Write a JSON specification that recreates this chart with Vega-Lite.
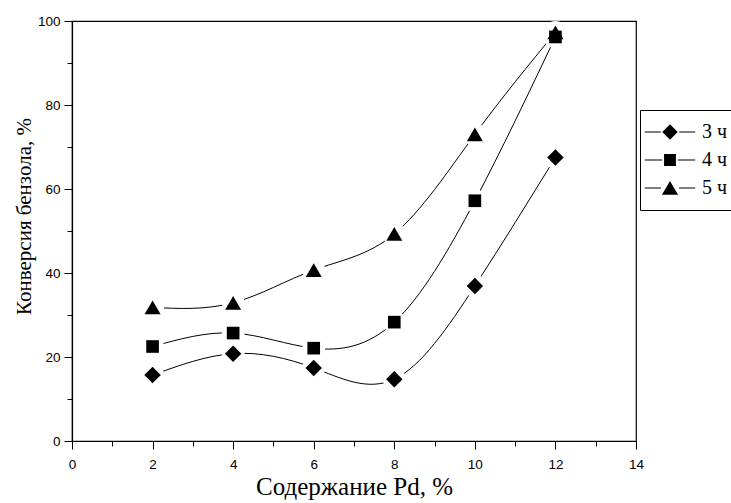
{
  "$schema": "https://vega.github.io/schema/vega-lite/v6.json",
  "width": 564,
  "height": 420,
  "autosize": {"type": "none"},
  "padding": {"left": 72, "top": 21, "right": 95, "bottom": 62},
  "background": "white",
  "config": {
    "view": {"stroke": "black", "strokeWidth": 1.2},
    "axis": {
      "domainColor": "black",
      "domainWidth": 1.2,
      "tickColor": "black",
      "tickWidth": 1,
      "grid": false,
      "labelFont": "Liberation Sans",
      "labelFontSize": 13.5,
      "labelColor": "black",
      "titleFont": "Liberation Serif",
      "titleFontWeight": "normal",
      "titleColor": "black",
      "labelOverlap": false,
      "labelFlush": false
    },
    "legend": {
      "symbolSize": 196,
      "symbolFillColor": "black",
      "symbolStrokeWidth": 0,
      "symbolOpacity": 1
    }
  },
  "data": {
    "values": [
      {"pd": 2, "conv": 15.7, "series": "3 ч"},
      {"pd": 4, "conv": 20.8, "series": "3 ч"},
      {"pd": 6, "conv": 17.4, "series": "3 ч"},
      {"pd": 8, "conv": 14.7, "series": "3 ч"},
      {"pd": 10, "conv": 36.9, "series": "3 ч"},
      {"pd": 12, "conv": 67.5, "series": "3 ч"},
      {"pd": 2, "conv": 22.5, "series": "4 ч"},
      {"pd": 4, "conv": 25.7, "series": "4 ч"},
      {"pd": 6, "conv": 22.1, "series": "4 ч"},
      {"pd": 8, "conv": 28.3, "series": "4 ч"},
      {"pd": 10, "conv": 57.2, "series": "4 ч"},
      {"pd": 12, "conv": 96.2, "series": "4 ч"},
      {"pd": 2, "conv": 31.8, "series": "5 ч"},
      {"pd": 4, "conv": 32.9, "series": "5 ч"},
      {"pd": 6, "conv": 40.7, "series": "5 ч"},
      {"pd": 8, "conv": 49.3, "series": "5 ч"},
      {"pd": 10, "conv": 73.0, "series": "5 ч"},
      {"pd": 12, "conv": 97.3, "series": "5 ч"}
    ]
  },
  "encoding": {
    "x": {
      "field": "pd",
      "type": "quantitative",
      "scale": {"domain": [0, 14], "nice": false, "zero": false},
      "axis": {
        "title": "Содержание Pd, %",
        "titleFontSize": 25,
        "titlePadding": 4,
        "values": [0, 1, 2, 3, 4, 5, 6, 7, 8, 9, 10, 11, 12, 13, 14],
        "labelExpr": "datum.value % 2 === 0 ? datum.label : ''",
        "tickSize": {"condition": {"test": "datum.value % 2 === 0", "value": 8}, "value": 5},
        "labelPadding": 8
      }
    },
    "y": {
      "field": "conv",
      "type": "quantitative",
      "scale": {"domain": [0, 100], "nice": false},
      "axis": {
        "title": "Конверсия бензола, %",
        "titleFontSize": 21,
        "titlePadding": 3,
        "titleY": 195,
        "values": [0, 10, 20, 30, 40, 50, 60, 70, 80, 90, 100],
        "labelExpr": "datum.value % 20 === 0 ? datum.label : ''",
        "tickSize": {"condition": {"test": "datum.value % 20 === 0", "value": 8}, "value": 5},
        "labelPadding": 4
      }
    }
  },
  "layer": [
    {
      "mark": {"type": "line", "interpolate": "natural", "color": "black", "strokeWidth": 1},
      "encoding": {"detail": {"field": "series"}}
    },
    {
      "mark": {"type": "point", "shape": "circle", "filled": true, "color": "white", "opacity": 1, "size": 520}
    },
    {
      "mark": {"type": "point", "filled": true, "color": "black", "opacity": 1},
      "encoding": {
        "shape": {
          "field": "series",
          "type": "nominal",
          "scale": {"domain": ["3 ч", "4 ч", "5 ч"], "range": ["diamond", "square", "triangle-up"]},
          "legend": null
        },
        "size": {
          "condition": [
            {"test": "datum.series === '4 ч'", "value": 160},
            {"test": "datum.series === '5 ч'", "value": 256}
          ],
          "value": 272
        }
      }
    },
    {
      "transform": [{"filter": "datum.pd > 100"}],
      "mark": {"type": "point", "filled": true, "color": "black", "opacity": 1},
      "encoding": {
        "shape": {
          "field": "series",
          "type": "nominal",
          "scale": {
            "domain": ["3 ч", "4 ч", "5 ч"],
            "range": [
              "M-3.6,-0.07H-1.3V0.07H-3.6Z M1.3,-0.07H3.6V0.07H1.3Z M0,-1.1L1.1,0L0,1.1L-1.1,0Z",
              "M-3.6,-0.07H-1.1V0.07H-3.6Z M1.1,-0.07H3.6V0.07H1.1Z M-0.85,-0.85H0.85V0.85H-0.85Z",
              "M-3.6,-0.07H-1.3V0.07H-3.6Z M1.3,-0.07H3.6V0.07H1.3Z M0,-1L1.15,0.95H-1.15Z"
            ]
          },
          "legend": {
            "title": null,
            "orient": "none",
            "legendX": 568,
            "legendY": 89,
            "padding": 12,
            "strokeColor": "black",
            "fillColor": "white",
            "rowPadding": 8,
            "symbolOffset": 8,
            "labelOffset": 22,
            "labelFont": "Liberation Serif",
            "labelFontSize": 20,
            "labelColor": "black"
          }
        }
      }
    }
  ],
  "resolve": {"scale": {"shape": "independent"}}
}
